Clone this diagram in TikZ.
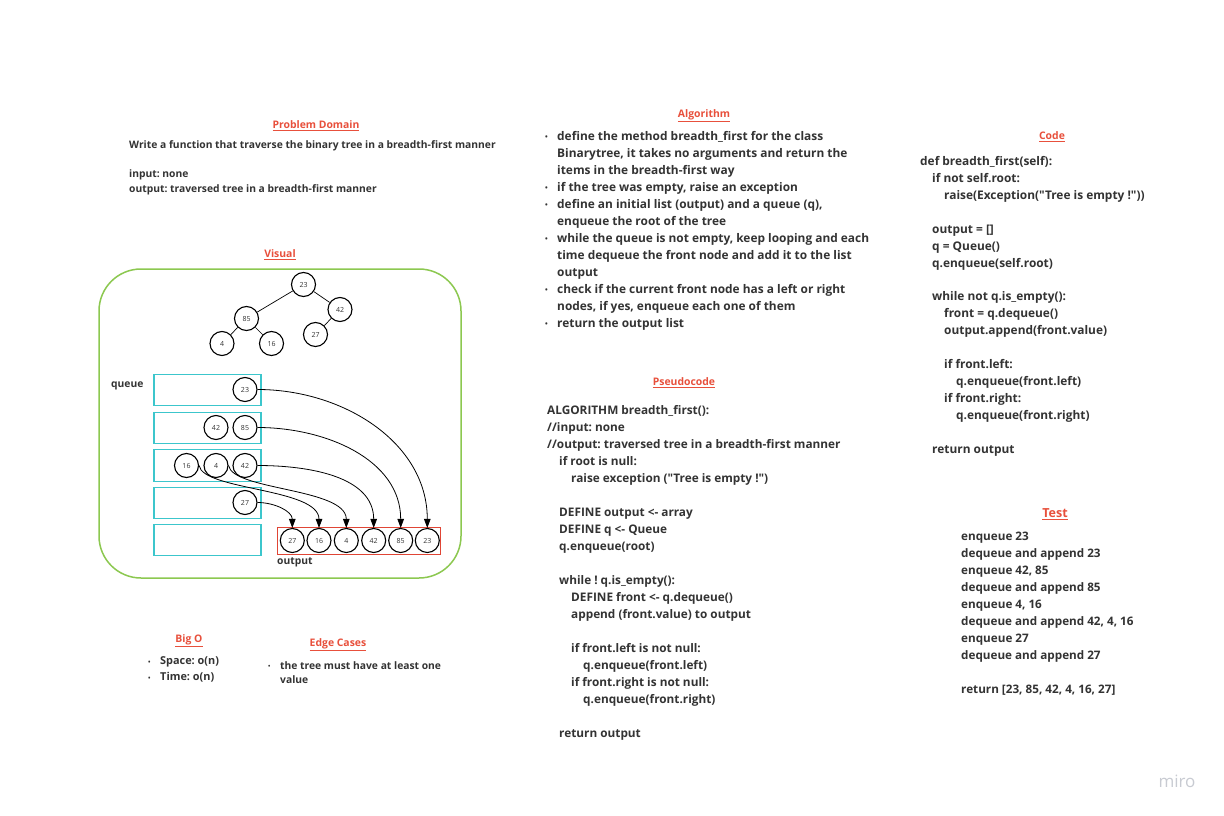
\documentclass[tikz,border=0pt]{standalone}
\usepackage{fontspec}
\setmainfont{Open Sans}[Ligatures=TeXOff]
\usetikzlibrary{arrows.meta}
\frenchspacing
\definecolor{titlered}{HTML}{E8503C}
\definecolor{txt}{HTML}{333333}
\definecolor{vgreen}{HTML}{8CC850}
\definecolor{qcyan}{HTML}{3CC6CC}
\definecolor{ored}{HTML}{E04535}
\definecolor{mirogrey}{HTML}{C8CBD2}
\newcommand{\bul}{\makebox[12pt][l]{\raisebox{0.1ex}{\scalebox{0.6}{•}}}}
\newcommand{\ind}{\hspace*{12pt}}
\newcommand{\dq}{\symbol{34}}
\begin{document}
\begin{tikzpicture}[x=1pt,y=-1pt,
  title/.style={font=\bfseries\fontsize{10.4}{12}\selectfont, text=titlered, inner sep=0},
  body/.style={text=txt, align=left, inner sep=0, anchor=north west},
  circ/.style={circle, draw=black, line width=1.1pt, minimum size=24pt, inner sep=0, font=\fontsize{7}{8}\selectfont, text=txt},
  qbox/.style={draw=qcyan, line width=1.4pt},
  arr/.style={-{Triangle[length=9pt,width=6.5pt]}, line width=0.8pt},
  tedge/.style={line width=0.7pt}]
\useasboundingbox[fill=white] (0,0) rectangle (1224,816);

% ---------- titles ----------
\node[title] (tpd) at (316,126) {\underline{Problem Domain}};
\node[title] (tvis) at (280,255) {\underline{Visual}};
\node[title] (talg) at (704,116) {\underline{Algorithm}};
\node[title] (tps) at (684,383) {\underline{Pseudocode}};
\node[title] (tcode) at (1052,137) {\underline{Code}};
\node[title, font=\bfseries\fontsize{12.5}{14}\selectfont] (ttest) at (1055,514) {\underline{Test}};
\node[title] (tbig) at (189,641) {\underline{Big O}};
\node[title] (tedge) at (338,645) {\underline{Edge Cases}};

% ---------- problem domain ----------
\node[body, font=\bfseries\fontsize{10.3}{14.5}\selectfont] (pd) at (129,140.5) {Write a function that traverse the binary tree in a breadth-first manner\\[14.5pt]
input: none\\
output: traversed tree in a breadth-first manner};

% ---------- algorithm ----------
\node[body, font=\bfseries\fontsize{11.9}{17}\selectfont] (alg) at (545,131) {\bul define the method breadth\_first for the class\\
\ind Binarytree, it takes no arguments and return the\\
\ind items in the breadth-first way\\
\bul if the tree was empty, raise an exception\\
\bul define an initial list (output) and a queue (q),\\
\ind enqueue the root of the tree\\
\bul while the queue is not empty, keep looping and each\\
\ind time dequeue the front node and add it to the list\\
\ind output\\
\bul check if the current front node has a left or right\\
\ind nodes, if yes, enqueue each one of them\\
\bul return the output list};

% ---------- pseudocode ----------
\node[body, font=\bfseries\fontsize{11.8}{17}\selectfont] (ps) at (547,405.5) {ALGORITHM breadth\_first():\\
//input: none\\
//output: traversed tree in a breadth-first manner\\
\ind if root is null:\\
\ind\ind raise exception (\dq Tree is empty !\dq)\\[17pt]
\ind DEFINE output <- array\\
\ind DEFINE q <- Queue\\
\ind q.enqueue(root)\\[17pt]
\ind while ! q.is\_empty():\\
\ind\ind DEFINE front <- q.dequeue()\\
\ind\ind append (front.value) to output\\[17pt]
\ind\ind if front.left is not null:\\
\ind\ind\ind q.enqueue(front.left)\\
\ind\ind if front.right is not null:\\
\ind\ind\ind q.enqueue(front.right)\\[17pt]
\ind return output};

% ---------- code ----------
\node[body, font=\bfseries\fontsize{11.9}{16.95}\selectfont] (code) at (920,156) {def breadth\_first(self):\\
\ind if not self.root:\\
\ind\ind raise(Exception(\dq Tree is empty !\dq))\\[16.95pt]
\ind output = []\\
\ind q = Queue()\\
\ind q.enqueue(self.root)\\[16.95pt]
\ind while not q.is\_empty():\\
\ind\ind front = q.dequeue()\\
\ind\ind output.append(front.value)\\[16.95pt]
\ind\ind if front.left:\\
\ind\ind\ind q.enqueue(front.left)\\
\ind\ind if front.right:\\
\ind\ind\ind q.enqueue(front.right)\\[16.95pt]
\ind return output};

% ---------- test ----------
\node[body, font=\bfseries\fontsize{11.7}{17}\selectfont] (test) at (961,532) {enqueue 23\\
dequeue and append 23\\
enqueue 42, 85\\
dequeue and append 85\\
enqueue 4, 16\\
dequeue and append 42, 4, 16\\
enqueue 27\\
dequeue and append 27\\[17pt]
return [23, 85, 42, 4, 16, 27]};

% ---------- big O / edge cases ----------
\node[body, font=\bfseries\fontsize{10.9}{16}\selectfont] (bigo) at (148,656.5) {\bul Space: o(n)\\
\bul Time: o(n)};
\node[body, font=\bfseries\fontsize{10.3}{14}\selectfont] (edge) at (268,661) {\makebox[12pt][l]{\raisebox{0.1ex}{\scalebox{0.6}{•}}}the tree must have at least one\\
\ind value};

% ---------- visual ----------
\draw[vgreen, line width=1.5pt, rounded corners=42pt] (99,269) rectangle (461,578);

% tree
\node[circ] (t23) at (303.5,284.5) {23};
\node[circ] (t42) at (340,309.5) {42};
\node[circ] (t85) at (246.5,318.5) {85};
\node[circ] (t27) at (315.5,334.5) {27};
\node[circ] (t4)  at (222,343.5) {4};
\node[circ] (t16) at (271.5,343.5) {16};
\draw[tedge] (t23) -- (t85);
\draw[tedge] (t23) -- (t42);
\draw[tedge] (t85) -- (t4);
\draw[tedge] (t85) -- (t16);
\draw[tedge] (t42) -- (t27);

% queue boxes
\node[font=\bfseries\fontsize{10.3}{11}\selectfont, text=txt, anchor=west, inner sep=0] (qlab) at (111,385.5) {queue};
\node[qbox, minimum width=107pt, minimum height=31.5pt, inner sep=0] (qb1) at (207.5,390) {};
\node[qbox, minimum width=107pt, minimum height=31.5pt, inner sep=0] (qb2) at (207.5,428) {};
\node[qbox, minimum width=107pt, minimum height=31.5pt, inner sep=0] (qb3) at (207.5,465.5) {};
\node[qbox, minimum width=107pt, minimum height=31.5pt, inner sep=0] (qb4) at (207.5,503) {};
\node[qbox, minimum width=107pt, minimum height=31.5pt, inner sep=0] (qb5) at (207.5,540) {};

\node[circ] (q23) at (245,389.5) {23};
\node[circ] (q42) at (216,427.5) {42};
\node[circ] (q85) at (245,427.5) {85};
\node[circ] (q16) at (186.5,465.5) {16};
\node[circ] (q4)  at (216,465.5) {4};
\node[circ] (q42b) at (245,465.5) {42};
\node[circ] (q27) at (245,502.5) {27};

% output
\draw[ored, line width=1.2pt] (277.5,527.5) rectangle (440.5,554.5);
\node[font=\bfseries\fontsize{10.3}{11}\selectfont, text=txt, anchor=west, inner sep=0] (olab) at (277,562.5) {output};
\node[circ] (o27) at (292.3,540.5) {27};
\node[circ] (o16) at (319,540.5) {16};
\node[circ] (o4)  at (346.3,540.5) {4};
\node[circ] (o42) at (373.7,540.5) {42};
\node[circ] (o85) at (400.7,540.5) {85};
\node[circ] (o23) at (427.3,540.5) {23};

% arrows
\draw[arr] (q23.east) to[out=0,in=90] (o23.north);
\draw[arr] (q85.east) to[out=0,in=90] (o85.north);
\draw[arr] (q42b.east) to[out=0,in=90] (o42.north);
\draw[arr] (q27.east) to[out=0,in=90] (o27.north);
\draw[arr] (q16.east) .. controls +(4,25) and +(0,-40) .. (o16.north);
\draw[arr] (q4.east) .. controls +(4,25) and +(0,-40) .. (o4.north);

% miro mark
\node[font=\fontsize{17}{20}\selectfont, text=mirogrey, inner sep=0] (miro) at (1177,781) {miro};
\end{tikzpicture}
\end{document}
